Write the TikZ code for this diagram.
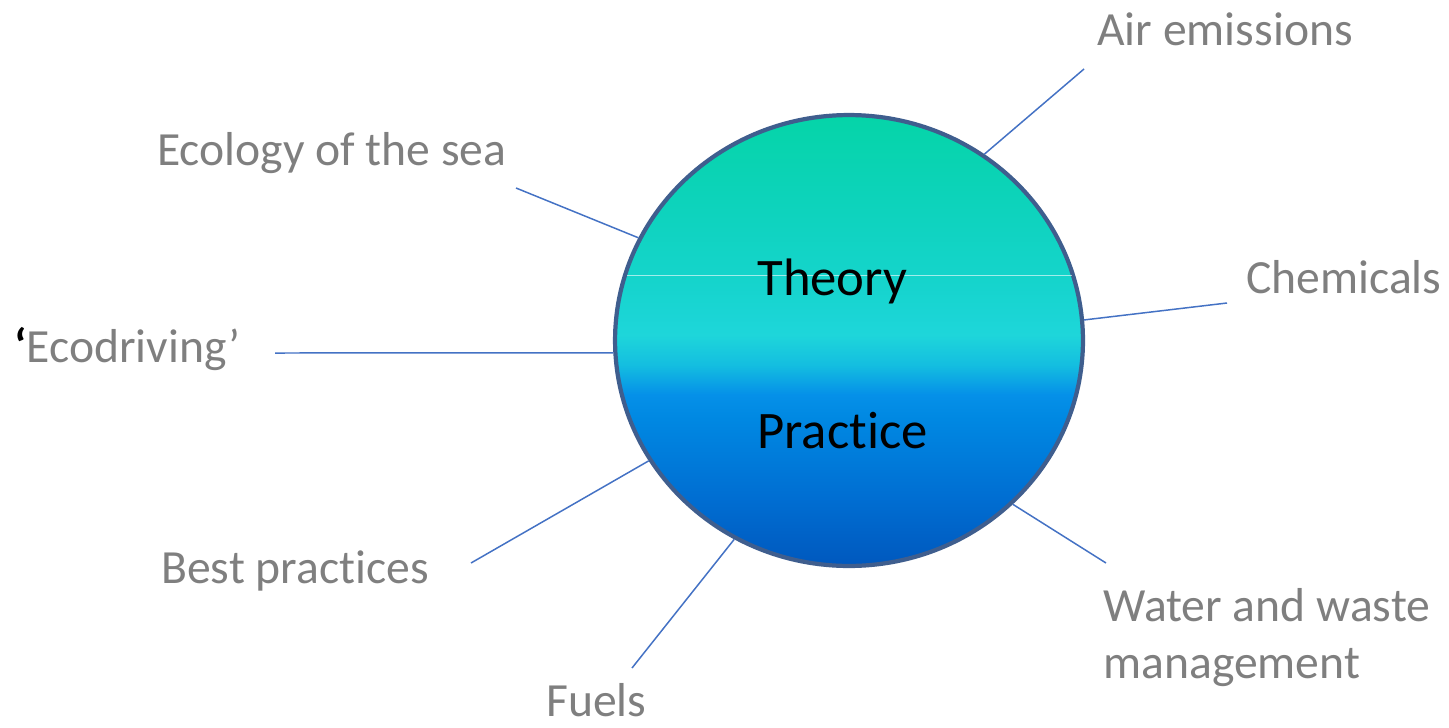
\documentclass[tikz,border=0pt]{standalone}
\usepackage{fontspec}
\setmainfont{Carlito}[Ligatures=NoCommon]
\usetikzlibrary{shapes.geometric}

\definecolor{labelgray}{HTML}{7F7F7F}
\definecolor{spokeblue}{HTML}{4472C4}
\definecolor{rimblue}{HTML}{3F5E8E}
\definecolor{sea0}{HTML}{0058BE}
\definecolor{sea1}{HTML}{006ED2}
\definecolor{sea2}{HTML}{0088E2}
\definecolor{sea3}{HTML}{0590E8}
\definecolor{sea4}{HTML}{14BEE0}
\definecolor{sea5}{HTML}{1ED6DA}
\definecolor{sea6}{HTML}{15D4CC}
\definecolor{sea7}{HTML}{0DD3BB}
\definecolor{sea8}{HTML}{05D4A8}

% vertical gradient of the disc (25bp = bottom, 75bp = top)
\pgfdeclareverticalshading{seashade}{100bp}{%
  color(0bp)=(sea0); color(25bp)=(sea0); color(32.5bp)=(sea1);
  color(41.3bp)=(sea2); color(44bp)=(sea3); color(47.3bp)=(sea4);
  color(50.6bp)=(sea5); color(56.6bp)=(sea6); color(65.4bp)=(sea7);
  color(75bp)=(sea8); color(100bp)=(sea8)}

\tikzset{
  hub/.style={ellipse, minimum width=9.36cm, minimum height=9.02cm,
    shading=seashade, draw=rimblue, line width=2.4pt},
  topic/.style={anchor=base west, inner sep=0pt, text=labelgray,
    font=\fontsize{27.1}{31.9}\selectfont, align=left},
  core/.style={anchor=base west, inner sep=0pt, text=black,
    font=\fontsize{30}{36}\selectfont},
  spoke/.style={draw=spokeblue, line width=0.85pt}
}

\begin{document}
\begin{tikzpicture}[x=0.02cm,y=-0.02cm]
  \useasboundingbox (0,0) rectangle (1449,727);

  % disc
  \node[hub] (hub) at (849,340.5) {};
  \draw[white, opacity=0.6, line width=0.6pt, shorten <=2.5pt, shorten >=2.5pt]
    (hub.164.4) -- (hub.164.4 -| hub.15.6); % light seam
  \node[core] (theory) at (757,295) {Theory};
  \node[core] (practice) at (757,448) {Practice};

  % topics
  \node[topic] (air) at (1097,45) {Air emissions};
  \node[topic] (ecology) at (157,165) {Ecology of the sea};
  \node[topic] (chem) at (1246,293) {Chemicals};
  \node[topic] (eco) at (14,362) {{\color{black}\bfseries ‘}Ecodriving’};
  \node[topic] (best) at (161,583) {Best practices};
  \node[topic] (water) at (1103,678) {Water and waste\\management};
  \node[topic] (fuels) at (546,716) {Fuels};

  % free ends of the spokes
  \coordinate (airend) at (1084,69);
  \coordinate (ecologyend) at (516,188);
  \coordinate (chemend) at (1227,303);
  \coordinate (ecoend) at (275,353);
  \coordinate (bestend) at (471,563);
  \coordinate (fuelsend) at (632,668);
  \coordinate (waterend) at (1106,563);

  % spokes
  \draw[spoke] (airend) -- (hub.54.5);
  \draw[spoke] (ecologyend) -- (hub.154.6);
  \draw[spoke] (chemend) -- (hub.5.7);
  \draw[spoke] (ecoend) -- (hub.183);
  \draw[spoke] (bestend) -- (hub.211);
  \draw[spoke] (fuelsend) -- (hub.240);
  \draw[spoke] (waterend) -- (hub.315.6);

\end{tikzpicture}
\end{document}
